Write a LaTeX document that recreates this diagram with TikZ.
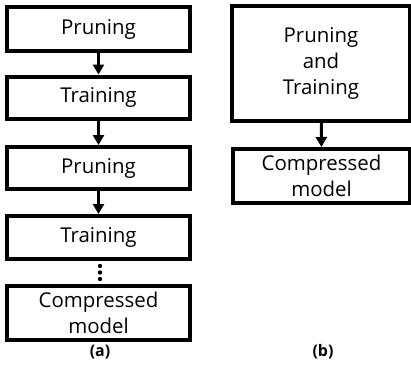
\documentclass[tikz,border=0pt]{standalone}
\usepackage{fontspec}
\setmainfont{Open Sans}
\usetikzlibrary{arrows.meta,positioning}

\begin{document}
\begin{tikzpicture}[x=1bp,y=-1bp,>={Triangle[length=10bp,width=11bp]},
  stepbox/.style={draw,line width=4bp,inner sep=0pt,align=center,
    font=\fontsize{20.5}{26}\selectfont},
  flow/.style={->,line width=3bp},
  caption/.style={font=\fontsize{16}{18}\selectfont\bfseries}]
\useasboundingbox (0,0) rectangle (411,365);
% (a) step by step
\node[stepbox,minimum width=183bp,minimum height=44bp] (p1) at (98.5,29) {Pruning};
\node[stepbox,minimum width=183bp,minimum height=42bp] (t1) at (98.5,97.5) {Training};
\node[stepbox,minimum width=183bp,minimum height=42bp] (p2) at (98.5,168) {Pruning};
\node[stepbox,minimum width=183bp,minimum height=43bp] (t2) at (98.5,237.5) {Training};
\node[stepbox,minimum width=183bp,minimum height=54bp] (c1) at (98.5,312.5) {Compressed\\model};
\draw[flow] (p1) -- (t1);
\draw[flow] (t1) -- (p2);
\draw[flow] (p2) -- (t2);
\foreach \y in {266,272.5,279} \fill (100,\y) circle(2.2bp);
\node[caption] (la) at (100,352) {(a)};
% (b) joint
\node[stepbox,minimum width=177bp,minimum height=115bp] (pt) at (321,63.5) {Pruning\\and\\Training};
\node[stepbox,minimum width=176bp,minimum height=54bp] (c2) at (321.5,176) {Compressed\\model};
\draw[flow] (pt) -- (c2);
\node[caption] (lb) at (323,352) {(b)};
\end{tikzpicture}
\end{document}
